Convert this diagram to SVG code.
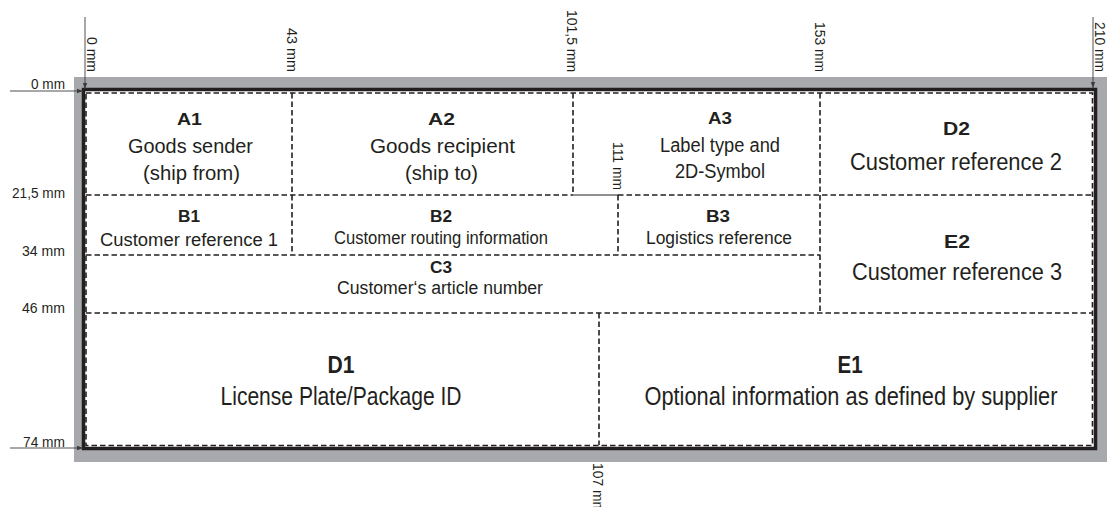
<svg xmlns="http://www.w3.org/2000/svg" width="1115" height="507" viewBox="0 0 1115 507">
<style>
text{font-family:"Liberation Sans Narrow","Liberation Sans",Arial,sans-serif;fill:#231f20}
.b{font-weight:bold;text-anchor:middle}
.t{text-anchor:middle}
.dim{font-size:15px}
.l{text-anchor:end}
.dash{stroke:#231f20;stroke-width:1.6;stroke-dasharray:5.5 3;fill:none}
.lead{stroke:#3c3c3c;stroke-width:0.9;fill:none}
</style>
<defs>
<marker id="ah" viewBox="0 0 6 6" refX="6" refY="3" markerWidth="6" markerHeight="6" orient="auto" markerUnits="userSpaceOnUse"><path d="M0,0.8 L6,3 L0,5.2 z" fill="#3c3c3c"/></marker>
</defs>
<g id="frame">
<rect x="74" y="77" width="1033" height="385" fill="#a7a9ac"/>
<rect x="83.5" y="89.5" width="1012" height="359" fill="#fff" stroke="#231f20" stroke-width="3.5"/>
<rect x="86" y="93" width="1006.5" height="352.5" class="dash"/>
</g>
<g id="dividers">
<path class="dash" d="M86,195H573M618,195H1092M292,93V255M573,93V195M618,195V255M820,93V313M86,255H820M86,313H1092M599,313V445"/>
<path d="M573,195H618" stroke="#231f20" stroke-width="1"/>
</g>
<g id="connectors">
<path class="lead" d="M85,17V89" marker-end="url(#ah)"/>
<path class="lead" d="M1093,17V88" marker-end="url(#ah)"/>
<path class="lead" d="M10,91H83" marker-end="url(#ah)"/>
<path class="lead" d="M10,448H83" marker-end="url(#ah)"/>
</g>
<g id="dimensions" class="dim">
<text class="l" x="65" y="89" textLength="34" lengthAdjust="spacingAndGlyphs">0 mm</text>
<text class="l" x="65" y="198" textLength="53" lengthAdjust="spacingAndGlyphs">21,5 mm</text>
<text class="l" x="65" y="255.5" textLength="43" lengthAdjust="spacingAndGlyphs">34 mm</text>
<text class="l" x="65" y="313" textLength="43" lengthAdjust="spacingAndGlyphs">46 mm</text>
<text class="l" x="65" y="447" textLength="42" lengthAdjust="spacingAndGlyphs">74 mm</text>
<text class="l" transform="translate(87,72) rotate(90)" textLength="35" lengthAdjust="spacingAndGlyphs">0 mm</text>
<text class="l" transform="translate(286.5,72) rotate(90)" textLength="44" lengthAdjust="spacingAndGlyphs">43 mm</text>
<text class="l" transform="translate(567,72) rotate(90)" textLength="62" lengthAdjust="spacingAndGlyphs">101,5 mm</text>
<text class="l" transform="translate(814.5,72) rotate(90)" textLength="50" lengthAdjust="spacingAndGlyphs">153 mm</text>
<text class="l" transform="translate(1095,72) rotate(90)" textLength="50" lengthAdjust="spacingAndGlyphs">210 mm</text>
<text transform="translate(612.5,142) rotate(90)" textLength="48" lengthAdjust="spacingAndGlyphs">111 mm</text>
<text transform="translate(593,463) rotate(90)" textLength="50" lengthAdjust="spacingAndGlyphs">107 mm</text>
</g>
<g id="A1">
<text class="b" x="189.5" y="125" font-size="17" textLength="25" lengthAdjust="spacingAndGlyphs">A1</text>
<text class="t" x="190.5" y="152.5" font-size="21" textLength="125" lengthAdjust="spacingAndGlyphs">Goods sender</text>
<text class="t" x="191.5" y="179.5" font-size="21" textLength="97" lengthAdjust="spacingAndGlyphs">(ship from)</text>
</g>
<g id="A2">
<text class="b" x="441.5" y="125" font-size="17" textLength="27" lengthAdjust="spacingAndGlyphs">A2</text>
<text class="t" x="442.5" y="152.5" font-size="21" textLength="145" lengthAdjust="spacingAndGlyphs">Goods recipient</text>
<text class="t" x="441.5" y="179.5" font-size="21" textLength="73" lengthAdjust="spacingAndGlyphs">(ship to)</text>
</g>
<g id="A3">
<text class="b" x="720" y="124" font-size="17" textLength="24" lengthAdjust="spacingAndGlyphs">A3</text>
<text class="t" x="720" y="151.5" font-size="20" textLength="120" lengthAdjust="spacingAndGlyphs">Label type and</text>
<text class="t" x="720" y="177.5" font-size="20" textLength="90" lengthAdjust="spacingAndGlyphs">2D-Symbol</text>
</g>
<g id="D2">
<text class="b" x="956.5" y="135" font-size="19" textLength="27" lengthAdjust="spacingAndGlyphs">D2</text>
<text class="t" x="956" y="170" font-size="23" textLength="212" lengthAdjust="spacingAndGlyphs">Customer reference 2</text>
</g>
<g id="B1">
<text class="b" x="189" y="222" font-size="16" textLength="22" lengthAdjust="spacingAndGlyphs">B1</text>
<text class="t" x="189" y="246" font-size="18" textLength="178" lengthAdjust="spacingAndGlyphs">Customer reference 1</text>
</g>
<g id="B2">
<text class="b" x="441" y="222" font-size="16" textLength="22" lengthAdjust="spacingAndGlyphs">B2</text>
<text class="t" x="441" y="244" font-size="18" textLength="214" lengthAdjust="spacingAndGlyphs">Customer routing information</text>
</g>
<g id="B3">
<text class="b" x="718" y="222" font-size="16" textLength="24" lengthAdjust="spacingAndGlyphs">B3</text>
<text class="t" x="719" y="244" font-size="18" textLength="146" lengthAdjust="spacingAndGlyphs">Logistics reference</text>
</g>
<g id="C3">
<text class="b" x="441" y="273" font-size="16" textLength="22" lengthAdjust="spacingAndGlyphs">C3</text>
<text class="t" x="440" y="294" font-size="18" textLength="206" lengthAdjust="spacingAndGlyphs">Customer‘s article number</text>
</g>
<g id="E2">
<text class="b" x="957" y="248" font-size="19" textLength="26" lengthAdjust="spacingAndGlyphs">E2</text>
<text class="t" x="957" y="280" font-size="23" textLength="210" lengthAdjust="spacingAndGlyphs">Customer reference 3</text>
</g>
<g id="D1">
<text class="b" x="341" y="373" font-size="24" textLength="27" lengthAdjust="spacingAndGlyphs">D1</text>
<text class="t" x="341" y="405" font-size="26" textLength="241" lengthAdjust="spacingAndGlyphs">License Plate/Package ID</text>
</g>
<g id="E1">
<text class="b" x="850" y="373" font-size="24" textLength="25" lengthAdjust="spacingAndGlyphs">E1</text>
<text class="t" x="851" y="405" font-size="26" textLength="413" lengthAdjust="spacingAndGlyphs">Optional information as defined by supplier</text>
</g>
</svg>
